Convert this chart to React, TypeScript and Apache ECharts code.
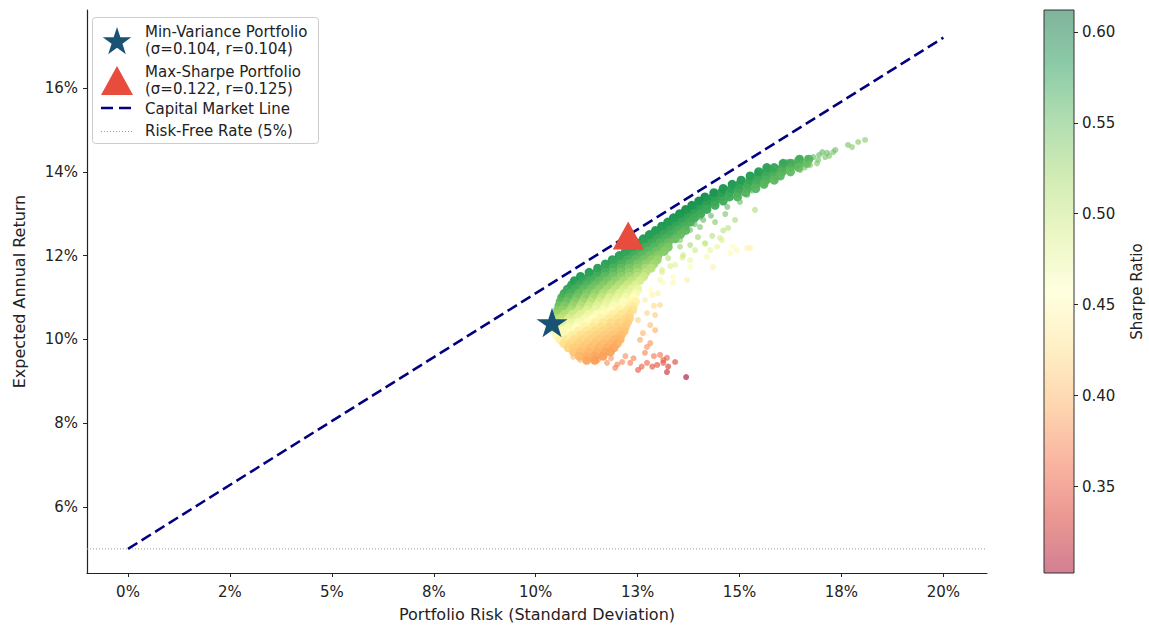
import { useEffect, useRef } from "react";
import * as echarts from "echarts";

// ---------- data (percent units) ----------
const RISK_FREE = 5;
const xTickValues = [0, 2.5, 5, 7.5, 10, 12.5, 15, 17.5, 20];
const xTickLabels = ["0%", "2%", "5%", "8%", "10%", "13%", "15%", "18%", "20%"];
const yTickValues = [6, 8, 10, 12, 14, 16];
const yTickLabels = ["6%", "8%", "10%", "12%", "14%", "16%"];
const cbTickValues = [0.35, 0.4, 0.45, 0.5, 0.55, 0.6];
const cbTickLabels = ["0.35", "0.40", "0.45", "0.50", "0.55", "0.60"];
const sharpeRange = [0.3025, 0.612];

// dense body of simulated portfolios, read row by row (return %, risks %)
const coreRowReturns = [
  14.3, 14.2, 14.1, 14.0, 13.9, 13.8, 13.7, 13.6, 13.5, 13.4, 13.3, 13.2, 13.1, 13.0, 12.9, 12.8, 12.7,
  12.6, 12.5, 12.4, 12.3, 12.2, 12.1, 12.0, 11.9, 11.8, 11.7, 11.6, 11.5, 11.4, 11.3, 11.2, 11.1, 11.0,
  10.9, 10.8, 10.7, 10.6, 10.5, 10.4, 10.3, 10.2, 10.1, 10.0, 9.9, 9.8, 9.7, 9.6, 9.5,
];
const coreRowRisks = [
  [16.47, 16.7],
  [16.07, 16.25, 16.45, 16.65],
  [15.67, 15.85, 16.05, 16.25, 16.45],
  [15.47, 15.65, 15.85, 16.05, 16.25],
  [15.26, 15.45, 15.65, 15.85, 16.0],
  [15.04, 15.25, 15.45, 15.65, 15.85],
  [14.82, 15.0, 15.2, 15.4, 15.6],
  [14.6, 14.8, 15.0, 15.2, 15.4],
  [14.37, 14.55, 14.75, 14.95, 15.15],
  [14.15, 14.35, 14.55, 14.75, 14.95],
  [14.0, 14.2, 14.4, 14.6],
  [13.83, 14.0, 14.2, 14.4],
  [13.68, 13.85, 14.05, 14.2],
  [13.53, 13.7, 13.9, 14.05],
  [13.38, 13.55, 13.75, 13.9],
  [13.24, 13.4, 13.6, 13.8],
  [13.09, 13.25, 13.45, 13.65],
  [12.94, 13.1, 13.3, 13.5, 13.68],
  [12.79, 12.95, 13.15, 13.35, 13.55],
  [12.64, 12.8, 13.0, 13.2, 13.42],
  [12.5, 12.65, 12.85, 13.05, 13.25],
  [12.35, 12.5, 12.7, 12.9, 13.1, 13.25],
  [12.2, 12.35, 12.55, 12.75, 12.95, 13.15],
  [12.05, 12.2, 12.4, 12.6, 12.8, 13.0],
  [11.88, 12.05, 12.25, 12.45, 12.65, 12.85, 12.98],
  [11.71, 11.9, 12.1, 12.3, 12.5, 12.7, 12.9],
  [11.52, 11.7, 11.9, 12.1, 12.3, 12.5, 12.7, 12.83],
  [11.31, 11.5, 11.7, 11.9, 12.1, 12.3, 12.5, 12.7],
  [11.1, 11.3, 11.5, 11.7, 11.9, 12.1, 12.3, 12.5, 12.65],
  [10.95, 11.15, 11.35, 11.55, 11.75, 11.95, 12.15, 12.35, 12.55],
  [10.88, 11.05, 11.25, 11.45, 11.65, 11.85, 12.05, 12.25, 12.45],
  [10.78, 10.95, 11.15, 11.35, 11.55, 11.75, 11.95, 12.15, 12.35, 12.5],
  [10.7, 10.85, 11.05, 11.25, 11.45, 11.65, 11.85, 12.05, 12.25, 12.45],
  [10.64, 10.8, 11.0, 11.2, 11.4, 11.6, 11.8, 12.0, 12.2, 12.4],
  [10.6, 10.75, 10.95, 11.15, 11.35, 11.55, 11.75, 11.95, 12.15, 12.35, 12.45],
  [10.57, 10.7, 10.9, 11.1, 11.3, 11.5, 11.7, 11.9, 12.1, 12.3, 12.4],
  [10.54, 10.65, 10.85, 11.05, 11.25, 11.45, 11.65, 11.85, 12.05, 12.25, 12.38],
  [10.51, 10.7, 10.9, 11.1, 11.3, 11.5, 11.7, 11.9, 12.1, 12.3],
  [10.49, 10.6, 10.8, 11.0, 11.2, 11.4, 11.6, 11.8, 12.0, 12.2, 12.3],
  [10.47, 10.65, 10.85, 11.05, 11.25, 11.45, 11.65, 11.85, 12.05, 12.25],
  [10.46, 10.6, 10.8, 11.0, 11.2, 11.4, 11.6, 11.8, 12.0, 12.2],
  [10.48, 10.65, 10.85, 11.05, 11.25, 11.45, 11.65, 11.85, 12.05, 12.17],
  [10.51, 10.7, 10.9, 11.1, 11.3, 11.5, 11.7, 11.9, 12.1],
  [10.59, 10.75, 10.95, 11.15, 11.35, 11.55, 11.75, 11.95, 12.07],
  [10.69, 10.85, 11.05, 11.25, 11.45, 11.65, 11.85, 12.0],
  [10.8, 10.95, 11.15, 11.35, 11.55, 11.75, 11.92],
  [10.93, 11.1, 11.3, 11.5, 11.7, 11.83],
  [11.07, 11.25, 11.45, 11.65],
  [11.25, 11.45],
];

// scattered individual portfolios around the body
const sparseRisk = [
  15.19, 15.01, 14.7, 14.11, 14.03, 13.86, 14.03, 13.79, 13.71, 13.98, 14.57, 14.52, 14.84, 14.94, 15.19, 15.26, 14.77, 14.45, 14.28, 13.79,
  13.54, 13.54, 14.2, 13.79, 14.35, 13.79, 13.71, 13.37, 13.37, 13.13, 13.3, 13.9, 14.3, 14.6, 14.15, 13.6, 13.3, 13.1, 13.0, 12.9,
  12.81, 12.81, 12.68, 13.05, 13.22, 13.42, 13.13, 12.98, 12.73, 12.51, 12.32, 12.12, 11.95, 11.75, 11.53, 13.25, 13.22, 12.86, 13.69, 12.73,
  12.56, 12.63, 12.51, 12.73, 11.09, 10.92, 11.41, 13.13, 12.93, 12.68, 12.81, 12.2, 12.4, 11.85, 12.9, 12.6, 12.0,
  16.49, 16.66, 16.81, 17.03, 17.15, 17.3, 17.35, 17.66, 17.76, 17.91, 18.08, 16.17, 16.31, 16.41, 16.07, 15.82, 15.43, 16.73, 16.49, 16.93,
  16.9, 17.1, 16.6, 15.9, 15.6, 15.3,
  12.93, 13.1, 13.25, 13.42, 13.62, 13.91, 14.16, 14.33, 14.72, 14.89, 14.4, 14.65, 15.38, 13.05, 12.86, 13.05, 12.93, 16.95, 17.2, 16.4,
];
const sparseReturn = [
  13.45, 13.28, 13.16, 12.85, 12.92, 12.85, 12.68, 12.61, 12.68, 12.44, 12.37, 12.42, 12.21, 12.13, 12.18, 12.18, 12.06, 12.21, 12.13, 12.25,
  12.37, 12.21, 11.97, 11.89, 11.73, 11.73, 11.42, 11.49, 11.35, 11.35, 12.54, 12.75, 12.95, 12.6, 12.3, 11.95, 11.75, 11.6, 11.1, 10.8,
  10.34, 9.91, 9.68, 9.63, 9.56, 9.46, 9.44, 9.39, 9.44, 9.27, 9.44, 9.46, 9.32, 9.44, 9.51, 9.35, 9.22, 9.35, 9.1, 9.82,
  9.99, 10.15, 10.46, 10.63, 9.51, 9.58, 9.51, 9.51, 10.22, 10.94, 11.18, 9.6, 9.55, 9.55, 9.6, 9.35, 9.4,
  14.33, 14.33, 14.35, 14.47, 14.45, 14.47, 14.52, 14.64, 14.59, 14.71, 14.76, 14.23, 14.23, 14.28, 14.21, 14.04, 13.97, 14.16, 14.04, 14.28,
  14.2, 14.35, 14.1, 13.85, 13.7, 13.55,
  11.85, 11.66, 11.94, 11.78, 12.01, 12.13, 12.28, 12.47, 12.66, 12.85, 12.8, 12.99, 13.09, 11.42, 11.06, 10.82, 10.58, 14.4, 14.38, 14.12,
];

const minVarRisk = 10.4;
const minVarReturn = 10.4;
const maxSharpeRisk = 12.27;
const maxSharpeReturn = 12.48;
const cmlRisk = [0, 20];
const cmlReturn = [5, 17.2];

const X_MIN = -1.006;
const X_MAX = 21.07;
const Y_MIN = 4.425;
const Y_MAX = 17.86;

// RdYlGn colormap (colour bar) and the way it reads on the dense cloud
const RdYlGn = ["#a50026", "#d73027", "#f46d43", "#fdae61", "#fee08b", "#ffffbf", "#d9ef8b", "#a6d96a", "#66bd63", "#1a9850", "#006837"];
const cloudColors = ["#a50026", "#d73027", "#f46d43", "#f88d52", "#fdae61", "#fec877", "#fee08b", "#ffffbf", "#d9ef8b", "#91d068", "#4fb25c", "#1a9850", "#006837"];

const FONT = "DejaVu Sans";

function rgba(hex: string, a: number) {
  const n = parseInt(hex.slice(1), 16);
  return `rgba(${(n >> 16) & 255},${(n >> 8) & 255},${n & 255},${a})`;
}

function labelFor(values: number[], labels: string[], v: number) {
  let best = 0;
  for (let i = 1; i < values.length; i++) if (Math.abs(values[i] - v) < Math.abs(values[best] - v)) best = i;
  return labels[best];
}

function starPoints(cx: number, cy: number, R: number) {
  const pts: number[][] = [];
  const r = R * 0.382;
  for (let i = 0; i < 10; i++) {
    const ang = -Math.PI / 2 + (i * Math.PI) / 5;
    const rad = i % 2 === 0 ? R : r;
    pts.push([cx + rad * Math.cos(ang), cy + rad * Math.sin(ang)]);
  }
  return pts;
}

const STAR_PATH = "path://M0,-1L0.2245,-0.309L0.951,-0.309L0.363,0.118L0.588,0.809L0,0.382L-0.588,0.809L-0.363,0.118L-0.951,-0.309L-0.2245,-0.309Z";

export default function App() {
  const ref = useRef<HTMLDivElement>(null);
  useEffect(() => {
    if (!ref.current) return;
    const chart = echarts.init(ref.current, undefined, { renderer: "svg" });

    const coreData: number[][] = [];
    coreRowReturns.forEach((ret, i) => {
      coreRowRisks[i].forEach((risk) => coreData.push([risk, ret, (ret - RISK_FREE) / risk]));
    });
    const sparseData = sparseRisk.map((risk, i) => [risk, sparseReturn[i], (sparseReturn[i] - RISK_FREE) / risk]);

    const n = RdYlGn.length - 1;
    const barStops = RdYlGn.map((c, i) => ({ offset: (n - i) / n, color: rgba(c, 0.5) })).reverse();

    const textColor = "#222";
    const option: any = {
      animation: false,
      textStyle: { fontFamily: FONT },
      grid: [
        { left: 87, top: 10, width: 900, height: 563, containLabel: false },
        {
          left: 1044, top: 10, width: 30, height: 563, show: true,
          backgroundColor: new echarts.graphic.LinearGradient(0, 0, 0, 1, barStops),
          borderColor: "#333", borderWidth: 1,
        },
      ],
      xAxis: [
        {
          type: "value", gridIndex: 0, min: X_MIN, max: X_MAX,
          name: "Portfolio Risk (Standard Deviation)", nameLocation: "middle", nameGap: 33,
          nameTextStyle: { fontSize: 16, color: textColor, fontFamily: FONT },
          axisLine: { show: true, onZero: false, lineStyle: { color: "#222", width: 1.2 } },
          axisTick: { show: true, length: 4, customValues: xTickValues, lineStyle: { color: "#222" } },
          axisLabel: {
            customValues: xTickValues, margin: 11, fontSize: 15, color: textColor, fontFamily: FONT,
            formatter: (v: number) => labelFor(xTickValues, xTickLabels, v),
          },
          splitLine: { show: false },
        },
        { type: "value", gridIndex: 1, show: false, min: 0, max: 1 },
      ],
      yAxis: [
        {
          type: "value", gridIndex: 0, min: Y_MIN, max: Y_MAX,
          name: "Expected Annual Return", nameLocation: "middle", nameGap: 60, nameRotate: 90,
          nameTextStyle: { fontSize: 16, color: textColor, fontFamily: FONT },
          axisLine: { show: true, onZero: false, lineStyle: { color: "#222", width: 1.2 } },
          axisTick: { show: true, length: 4, customValues: yTickValues, lineStyle: { color: "#222" } },
          axisLabel: {
            customValues: yTickValues, margin: 9, fontSize: 15, color: textColor, fontFamily: FONT,
            formatter: (v: number) => labelFor(yTickValues, yTickLabels, v),
          },
          splitLine: { show: false },
        },
        {
          type: "value", gridIndex: 1, position: "right", min: sharpeRange[0], max: sharpeRange[1],
          name: "Sharpe Ratio", nameLocation: "middle", nameGap: 55, nameRotate: 90,
          nameTextStyle: { fontSize: 15, color: textColor, fontFamily: FONT },
          axisLine: { show: false, onZero: false },
          axisTick: { show: true, length: 4, customValues: cbTickValues, lineStyle: { color: "#222" } },
          axisLabel: {
            customValues: cbTickValues, margin: 8, fontSize: 15, color: textColor, fontFamily: FONT,
            formatter: (v: number) => labelFor(cbTickValues, cbTickLabels, v),
          },
          splitLine: { show: false },
        },
      ],
      visualMap: {
        type: "continuous", show: false, dimension: 2, seriesIndex: [0, 1],
        min: sharpeRange[0], max: sharpeRange[1],
        inRange: { color: cloudColors },
      },
      series: [
        {
          name: "Portfolios", type: "scatter", xAxisIndex: 0, yAxisIndex: 0,
          data: coreData, symbolSize: 9, itemStyle: { opacity: 0.95 }, z: 2, silent: true,
        },
        {
          name: "Portfolios (scattered)", type: "scatter", xAxisIndex: 0, yAxisIndex: 0,
          data: sparseData, symbolSize: 6, itemStyle: { opacity: 0.6 }, z: 2, silent: true,
        },
        {
          name: "Risk-Free Rate (5%)", type: "line", xAxisIndex: 0, yAxisIndex: 0,
          data: [[X_MIN, RISK_FREE], [X_MAX, RISK_FREE]], symbol: "none",
          lineStyle: { color: "#999", width: 1, type: [1, 2] }, z: 1, silent: true,
        },
        {
          name: "Capital Market Line", type: "line", xAxisIndex: 0, yAxisIndex: 0,
          data: cmlRisk.map((r, i) => [r, cmlReturn[i]]), symbol: "none",
          lineStyle: { color: "#000080", width: 2.5, type: [11, 5] }, z: 3, silent: true,
        },
        {
          name: "Min-Variance Portfolio", type: "scatter", xAxisIndex: 0, yAxisIndex: 0,
          data: [[minVarRisk, minVarReturn]], symbol: STAR_PATH, symbolKeepAspect: true, symbolSize: 31,
          itemStyle: { color: "#1a5276", opacity: 1 }, z: 5, silent: true,
        },
        {
          name: "Max-Sharpe Portfolio", type: "scatter", xAxisIndex: 0, yAxisIndex: 0,
          data: [[maxSharpeRisk, maxSharpeReturn]], symbol: "triangle", symbolSize: [31, 28],
          itemStyle: { color: "#e74c3c", opacity: 1 }, z: 6, silent: true,
        },
      ],
      graphic: [
        {
          type: "group", silent: true,
          children: [
            { type: "rect", shape: { x: 92.5, y: 17.5, width: 226, height: 126, r: 3 }, style: { fill: "rgba(255,255,255,0.85)", stroke: "#cccccc", lineWidth: 1 } },
            { type: "polygon", shape: { points: starPoints(117, 42, 15) }, style: { fill: "#1a5276" } },
            { type: "text", x: 145, y: 40.5, style: { text: "Min-Variance Portfolio\n(σ=0.104, r=0.104)", font: `15px "${FONT}"`, fill: textColor, lineHeight: 17, verticalAlign: "middle", align: "left" } },
            { type: "polygon", shape: { points: [[117, 66], [133, 95], [101, 95]] }, style: { fill: "#e74c3c" } },
            { type: "text", x: 145, y: 80.5, style: { text: "Max-Sharpe Portfolio\n(σ=0.122, r=0.125)", font: `15px "${FONT}"`, fill: textColor, lineHeight: 17, verticalAlign: "middle", align: "left" } },
            { type: "line", shape: { x1: 101, y1: 108, x2: 133, y2: 108 }, style: { stroke: "#000080", lineWidth: 2.5, lineDash: [12, 6] } },
            { type: "text", x: 145, y: 108.5, style: { text: "Capital Market Line", font: `15px "${FONT}"`, fill: textColor, verticalAlign: "middle", align: "left" } },
            { type: "line", shape: { x1: 101, y1: 131.5, x2: 133, y2: 131.5 }, style: { stroke: "#999", lineWidth: 1, lineDash: [1, 2] } },
            { type: "text", x: 145, y: 131, style: { text: "Risk-Free Rate (5%)", font: `15px "${FONT}"`, fill: textColor, verticalAlign: "middle", align: "left" } },
          ],
        },
      ],
    };
    chart.setOption(option);
    return () => chart.dispose();
  }, []);
  return <div ref={ref} style={{ position: "fixed", left: 0, top: 0, width: 1149, height: 628, background: "#fff" }} />;
}
